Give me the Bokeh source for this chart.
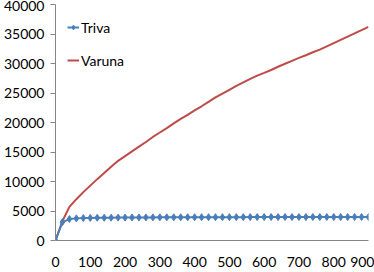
from bokeh.plotting import figure
from bokeh.models import Range1d, Legend, LegendItem, FixedTicker
from bokeh.embed import file_html
from bokeh.resources import INLINE

x_vals = list(range(0, 901, 20))
triva = [0, 3120, 3630, 3750, 3800, 3830, 3850, 3860, 3870, 3880,
         3890, 3900, 3905, 3910, 3915, 3920, 3925, 3930, 3935, 3940,
         3945, 3950, 3950, 3955, 3955, 3960, 3960, 3960, 3965, 3965,
         3965, 3970, 3970, 3970, 3970, 3975, 3975, 3975, 3975, 3980,
         3980, 3980, 3980, 3980, 3980, 3980]
varuna = [0, 3300, 5700, 7000, 8200, 9300, 10400, 11450, 12500, 13500,
          14300, 15100, 15900, 16700, 17550, 18300, 19050, 19850, 20600, 21300,
          22050, 22750, 23500, 24250, 24900, 25550, 26200, 26800, 27400, 27950,
          28400, 28900, 29450, 29950, 30450, 30950, 31400, 31900, 32350, 32900,
          33450, 34000, 34550, 35100, 35650, 36200]
x_ticks = [0, 100, 200, 300, 400, 500, 600, 700, 800, 900]
y_ticks = [0, 5000, 10000, 15000, 20000, 25000, 30000, 35000, 40000]

FONT = "Lato"
AXIS_COLOR = "#868686"
TEXT_COLOR = "#000000"

p = figure(width=374, height=272, output_backend="svg", toolbar_location=None,
           x_range=Range1d(0, 900), y_range=Range1d(0, 40000),
           min_border_left=53, min_border_right=6, min_border_top=4, min_border_bottom=32)
p.outline_line_color = None
p.xgrid.grid_line_color = None
p.ygrid.grid_line_color = None
p.background_fill_color = "white"
p.border_fill_color = "white"

r_var = p.line(x_vals, varuna, line_color="#BE4B48", line_width=2)
r_tri = p.line(x_vals, triva, line_color="#4A7EBB", line_width=2)
r_tri_m = p.scatter(x_vals, triva, marker="diamond", size=7,
                    fill_color="#4A7EBB", line_color="#4A7EBB")

p.xaxis.ticker = FixedTicker(ticks=x_ticks)
p.yaxis.ticker = FixedTicker(ticks=y_ticks)
for ax in (p.xaxis[0], p.yaxis[0]):
    ax.axis_line_color = AXIS_COLOR
    ax.major_tick_line_color = AXIS_COLOR
    ax.minor_tick_line_color = None
    ax.major_label_text_font = FONT
    ax.major_label_text_font_size = "14px"
    ax.major_label_text_color = TEXT_COLOR
p.xaxis.major_tick_out = 0
p.xaxis.major_tick_in = 0
p.xaxis.major_label_standoff = 16
p.yaxis.major_tick_out = 5
p.yaxis.major_tick_in = 0
p.yaxis.major_label_standoff = 6

legend = Legend(items=[LegendItem(label="Triva", renderers=[r_tri, r_tri_m]),
                       LegendItem(label="Varuna", renderers=[r_var])],
                location="top_left")
legend.border_line_color = None
legend.background_fill_alpha = 0
legend.label_text_font = FONT
legend.label_text_font_size = "14px"
legend.label_text_color = TEXT_COLOR
legend.glyph_width = 12
legend.glyph_height = 22
legend.label_height = 22
legend.label_standoff = 2
legend.spacing = 11
legend.padding = 2
legend.margin = 12
p.add_layout(legend)

open("out.html", "w").write(file_html(p, INLINE))
